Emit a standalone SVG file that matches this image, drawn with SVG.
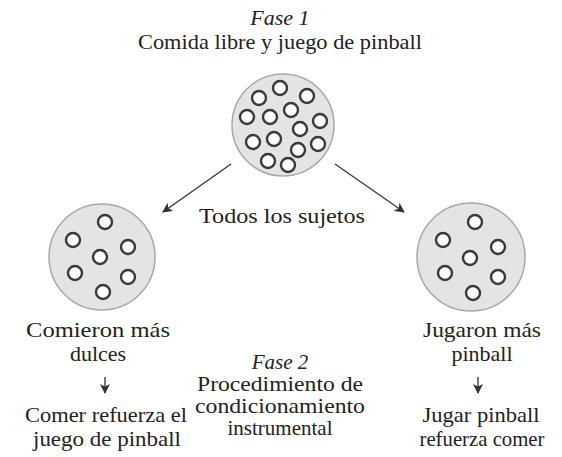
<svg xmlns="http://www.w3.org/2000/svg" width="562" height="457" viewBox="0 0 562 457">
<style>
text{font-family:"Liberation Serif","Times New Roman",serif;font-size:22px;fill:#222;text-anchor:middle}
.it{font-style:italic}
.p2{font-size:21px}
.big{fill:#e4e4e4;stroke:#a8a8a8;stroke-width:1.5}
.dot{fill:#fff;stroke:#3a3a3a;stroke-width:2.4}
.conn{stroke:#333;stroke-width:1.3;fill:none}
</style>
<defs>
<marker id="ah" viewBox="0 0 10 10" refX="9" refY="5" markerWidth="10" markerHeight="10" markerUnits="userSpaceOnUse" orient="auto">
<path d="M0,0 L10,5 L0,10 L2.5,5 Z" fill="#333"/>
</marker>
</defs>
<g id="title">
<text class="it" x="280" y="25">Fase 1</text>
<text x="280" y="49" textLength="284" lengthAdjust="spacingAndGlyphs">Comida libre y juego de pinball</text>
</g>
<g id="all">
<circle class="big" cx="283" cy="125" r="51"/>
<circle class="dot" cx="280" cy="88" r="7"/>
<circle class="dot" cx="307" cy="96" r="7"/>
<circle class="dot" cx="259" cy="98" r="7"/>
<circle class="dot" cx="291" cy="110" r="7"/>
<circle class="dot" cx="247" cy="117" r="7"/>
<circle class="dot" cx="270" cy="117" r="7"/>
<circle class="dot" cx="320" cy="121" r="7"/>
<circle class="dot" cx="300" cy="129" r="7"/>
<circle class="dot" cx="253" cy="142" r="7"/>
<circle class="dot" cx="274" cy="139" r="7"/>
<circle class="dot" cx="298" cy="150" r="7"/>
<circle class="dot" cx="318" cy="144" r="7"/>
<circle class="dot" cx="268" cy="161" r="7"/>
<circle class="dot" cx="288" cy="165" r="7"/>
<text x="282" y="223" textLength="166" lengthAdjust="spacingAndGlyphs">Todos los sujetos</text>
</g>
<g id="left">
<circle class="big" cx="102" cy="257" r="53"/>
<circle class="dot" cx="105" cy="222" r="7"/>
<circle class="dot" cx="73" cy="240" r="7"/>
<circle class="dot" cx="128" cy="247" r="7"/>
<circle class="dot" cx="100" cy="257" r="7"/>
<circle class="dot" cx="75" cy="273" r="7"/>
<circle class="dot" cx="128" cy="277" r="7"/>
<circle class="dot" cx="103" cy="292" r="7"/>
<text x="98" y="337" textLength="144" lengthAdjust="spacingAndGlyphs">Comieron más</text>
<text x="98" y="361">dulces</text>
<text x="106" y="422" textLength="162" lengthAdjust="spacingAndGlyphs">Comer refuerza el</text>
<text x="107" y="446" textLength="148" lengthAdjust="spacingAndGlyphs">juego de pinball</text>
</g>
<g id="right">
<circle class="big" cx="471" cy="257" r="54"/>
<circle class="dot" cx="475" cy="222" r="7"/>
<circle class="dot" cx="443" cy="240" r="7"/>
<circle class="dot" cx="498" cy="247" r="7"/>
<circle class="dot" cx="470" cy="258" r="7"/>
<circle class="dot" cx="445" cy="273" r="7"/>
<circle class="dot" cx="498" cy="277" r="7"/>
<circle class="dot" cx="473" cy="293" r="7"/>
<text x="482" y="337" textLength="118" lengthAdjust="spacingAndGlyphs">Jugaron más</text>
<text x="482" y="361">pinball</text>
<text x="481" y="422" textLength="117" lengthAdjust="spacingAndGlyphs">Jugar pinball</text>
<text x="482" y="446" textLength="125" lengthAdjust="spacingAndGlyphs">refuerza comer</text>
</g>
<g id="phase2">
<text class="it p2" x="280" y="369">Fase 2</text>
<text class="p2" x="280" y="391" textLength="166" lengthAdjust="spacingAndGlyphs">Procedimiento de</text>
<text class="p2" x="280" y="413" textLength="170" lengthAdjust="spacingAndGlyphs">condicionamiento</text>
<text class="p2" x="280" y="435">instrumental</text>
</g>
<g id="connectors">
<line class="conn" x1="231" y1="164" x2="163" y2="212" marker-end="url(#ah)"/>
<line class="conn" x1="335" y1="164" x2="404" y2="212" marker-end="url(#ah)"/>
<line class="conn" x1="105" y1="377" x2="105" y2="393" marker-end="url(#ah)"/>
<line class="conn" x1="478" y1="377" x2="478" y2="393" marker-end="url(#ah)"/>
</g>
</svg>
